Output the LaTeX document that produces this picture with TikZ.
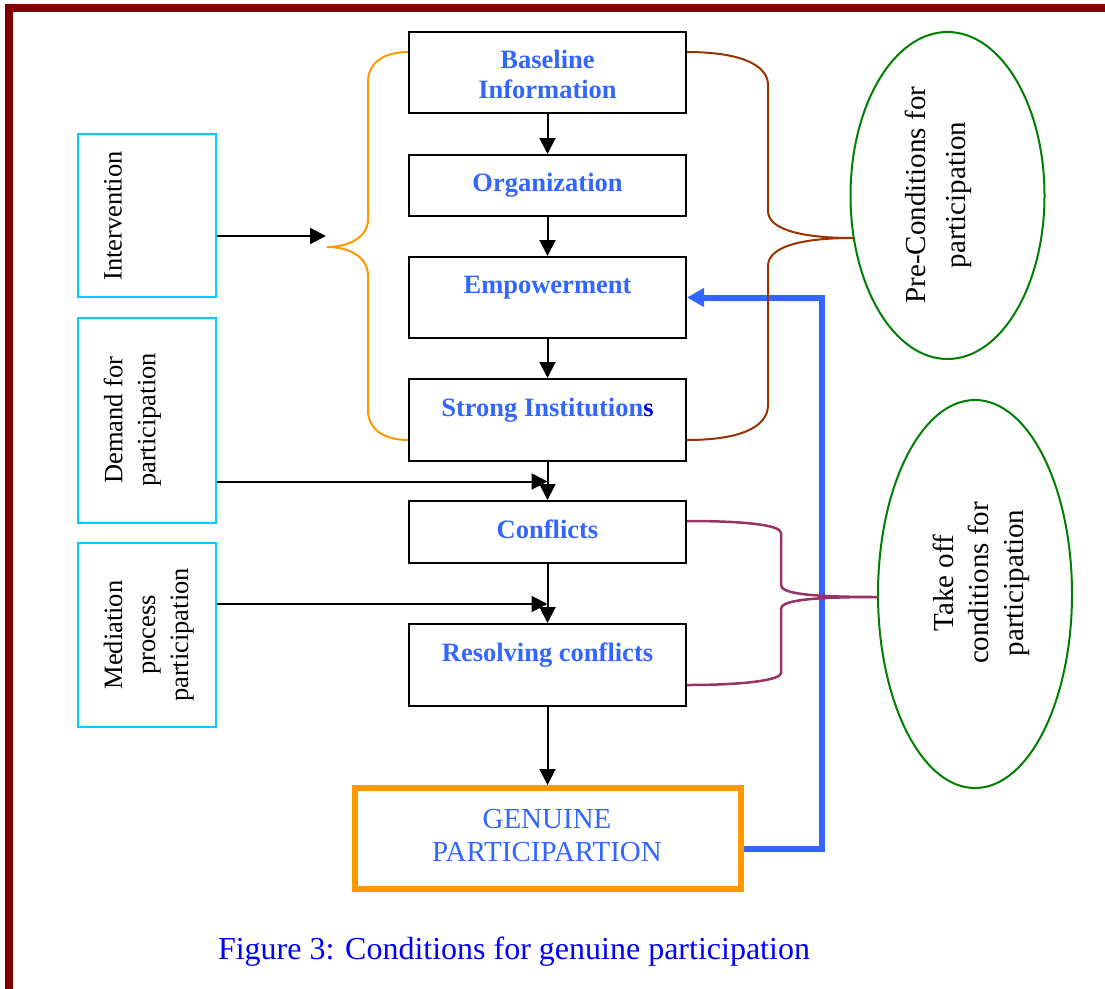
\documentclass[tikz,border=0pt]{standalone}
\usepackage{fontspec}
\setmainfont{Liberation Serif}
\usetikzlibrary{arrows.meta,shapes.geometric}
\definecolor{frameRed}{HTML}{800000}
\definecolor{tblue}{HTML}{3366FF}
\definecolor{dblue}{HTML}{0000E0}
\definecolor{capblue}{HTML}{0000FF}
\definecolor{sidecyan}{HTML}{00CCFF}
\definecolor{gorange}{HTML}{FF9900}
\definecolor{bbrown}{HTML}{993300}
\definecolor{bpurple}{HTML}{993366}
\definecolor{egreen}{HTML}{008000}
\begin{document}
\begin{tikzpicture}[x=1pt,y=-1pt,
  box/.style={draw=black, line width=2pt, minimum width=277pt, inner sep=0pt},
  side/.style={draw=sidecyan, line width=2pt, minimum width=138pt, inner sep=0pt},
  arr/.style={draw=black, line width=2pt, -{Triangle[length=16pt,width=16pt]}},
  ctext/.style={text=tblue, font=\fontsize{26.5}{30}\selectfont\bfseries, inner sep=0pt, anchor=base, align=center},
  stext/.style={font=\fontsize{26.5}{33}\selectfont, rotate=90, inner sep=0pt, align=center},
  etext/.style={font=\fontsize{29}{40}\selectfont, rotate=90, inner sep=0pt, align=center},
  oval/.style={ellipse, draw=egreen, line width=2pt, minimum width=194pt, inner sep=0pt},
  brace/.style={line width=2pt}
]
\useasboundingbox (0,0) rectangle (1105,988);
\clip (0,0) rectangle (1105,988);
\fill[white] (0,0) rectangle (1105,988);
% frame
\draw[line width=8pt, frameRed] (1130,8) -- (8.8,8) -- (8.8,1010);

% central boxes
\node[box, minimum height=81pt] (base) at (547.5,72.5) {};
\node[box, minimum height=61pt] (org) at (547.5,185.5) {};
\node[box, minimum height=81pt] (emp) at (547.5,297.5) {};
\node[box, minimum height=82pt] (strong) at (547.5,420) {};
\node[box, minimum height=62pt] (conf) at (547.5,532) {};
\node[box, minimum height=82pt] (resolv) at (547.5,665) {};
\node[draw=gorange, line width=6pt, minimum width=386pt, minimum height=101pt, inner sep=0pt] (gen) at (547.5,838.5) {};

% texts of central boxes
\node[ctext, anchor=center] (baseT) at (547.5,74) {Baseline\\Information};
\node[ctext] (orgT) at (547.5,191) {Organization};
\node[ctext] (empT) at (547.5,293) {Empowerment};
\node[ctext] (strongT) at (547.5,416) {Strong Institution\textcolor{dblue}{s}};
\node[ctext] (confT) at (547.5,538) {Conflicts};
\node[ctext] (resolvT) at (547.5,661) {Resolving conflicts};
\node[font=\fontsize{29}{33.4}\selectfont, text=tblue, align=center, inner sep=0pt] (genT) at (547,835.5) {GENUINE\\PARTICIPARTION};

% side boxes
\node[side, minimum height=163pt] (int) at (147,215.5) {};
\node[side, minimum height=205pt] (dem) at (147,420.5) {};
\node[side, minimum height=184pt] (med) at (147,635) {};
\node[stext] (intT) at (113,216) {Intervention};
\node[stext] (demT) at (132.3,420) {Demand for\\participation};
\node[stext] (medT) at (148.8,635) {Mediation\\process\\participation};

% ellipses
\node[oval, minimum height=327pt] (pre) at (947.5,195.5) {};
\node[oval, minimum height=388pt] (take) at (975,594) {};
\node[etext] (preT) at (938,195) {Pre-Conditions for\\participation};
\node[etext, font=\fontsize{29}{35}\selectfont] (takeT) at (981,583) {Take off\\conditions for\\participation};

% caption
\node[font=\fontsize{32}{36}\selectfont, text=capblue, anchor=base, inner sep=0pt] (cap) at (514,959) {Figure 3: Conditions for genuine participation};

% coordinates
\coordinate (intEnd) at (326,236);
\coordinate (j1) at (547.5,481.5);
\coordinate (j2) at (547.5,604);
\coordinate (fb) at (822,849);
\coordinate (oTip) at (327,247);
\coordinate (bTip) at (853,238);
\coordinate (pTip) at (878,597);

% vertical flow arrows
\draw[arr] (base.south) -- (org.north);
\draw[arr] (org.south) -- (emp.north);
\draw[arr] (emp.south) -- (strong.north);
\draw[arr] (strong.south) -- (conf.north);
\draw[arr] (conf.south) -- (resolv.north);
\draw[arr] (resolv.south) -- (gen.north);

% side arrows
\draw[arr] (int.east |- intEnd) -- (intEnd);
\draw[arr] (dem.east |- j1) -- (j1);
\draw[arr] (med.east |- j2) -- (j2);

% feedback arrow
\draw[line width=6pt, tblue, -{Triangle[length=17pt,width=18pt]}]
  (gen.east |- fb) -- (fb) -- (fb |- emp.east) -- (emp.east);

% orange brace
\draw[brace, gorange] (base.west |- 0,52) .. controls (385,52) and (368,62) .. (368,82)
  -- (368,219) .. controls (368,238) and (348,247) .. (oTip)
  .. controls (348,247) and (368,256) .. (368,276)
  -- (368,410) .. controls (368,430) and (385,440) .. (strong.west |- 0,440);

% brown brace
\draw[brace, bbrown] (base.east |- 0,52) .. controls (738,52) and (768,64) .. (768,85)
  -- (768,211) .. controls (768,229) and (800,238) .. (bTip)
  .. controls (800,238) and (768,247) .. (768,266)
  -- (768,405) .. controls (768,428) and (738,440) .. (strong.east |- 0,440);

% purple brace
\draw[line width=2.5pt, bpurple] (conf.east |- 0,521) .. controls (745,521) and (781,525) .. (781,533)
  -- (781,585) .. controls (781,593) and (805,597) .. (pTip)
  .. controls (805,597) and (781,601) .. (781,609)
  -- (781,673) .. controls (781,680) and (745,685) .. (resolv.east |- 0,685);
\end{tikzpicture}
\end{document}
